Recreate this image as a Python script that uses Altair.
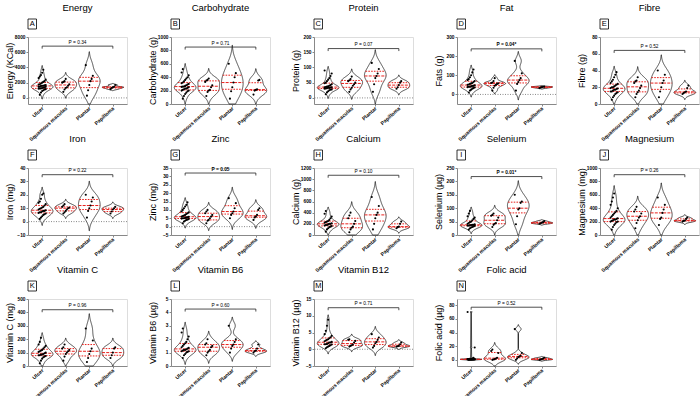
import altair as alt
import pandas as pd

group_names = ["Ulcer", "Squamous maculas", "Plantar", "Papilloma"]

# Intake values per group: Ulcer, Squamous maculas, Plantar, Papilloma
energy = [
    [400, 700, 900, 1000, 1100, 1150, 1200, 1250, 1300, 1350, 1400, 1450, 1500, 1550, 1600,
     1650, 1700, 1750, 1800, 1900, 2000, 2100, 2200, 2400, 2600, 2800, 3000, 3300, 3700, 1250, 1450, 1600],
    [800, 1100, 1300, 1400, 1600, 1800, 2000, 2100, 2200, 2500],
    [300, 1000, 1700, 2200, 2500, 2900, 4300],
    [1150, 1300, 1400, 1450, 1700],
]
carbohydrate = [
    [80, 120, 150, 170, 190, 200, 210, 220, 230, 240, 250, 255, 260, 270, 280, 290, 300, 310,
     320, 340, 360, 380, 400, 430, 470, 520, 230, 260, 200],
    [120, 180, 200, 210, 250, 280, 330, 350, 360, 380],
    [80, 190, 250, 320, 400, 460, 600],
    [140, 200, 210, 220, 350, 360],
]
protein = [
    [12, 18, 22, 25, 27, 28, 30, 31, 32, 33, 34, 35, 36, 37, 38, 40, 42, 45, 48, 50, 55, 60,
     65, 72, 80, 90, 33, 35],
    [20, 28, 33, 40, 45, 50, 55, 58, 62, 70],
    [20, 45, 65, 72, 80, 95, 115],
    [30, 35, 42, 50, 55],
]
fat = [
    [10, 20, 25, 30, 33, 36, 38, 40, 42, 45, 48, 50, 52, 55, 58, 60, 65, 70, 75, 80, 90, 100,
     115, 130, 40, 45],
    [20, 35, 45, 50, 55, 58, 60, 62, 70, 85],
    [20, 55, 65, 75, 85, 110, 175],
    [33, 36, 38, 40, 41],
]
fibre = [
    [5, 8, 10, 12, 13, 14, 15, 16, 17, 18, 18.5, 19, 20, 21, 22, 23, 24, 25, 27, 29, 32, 35,
     38, 15, 17, 20],
    [8, 12, 14, 16, 19, 22, 25, 27, 28, 32],
    [8, 15, 20, 25, 28, 35, 40],
    [12, 13, 14, 15, 19, 22],
]
iron = [
    [2, 3, 4, 5, 5.5, 6, 6.5, 7, 7.5, 8, 8.5, 9, 9.5, 10, 10.5, 11, 12, 13, 14, 15, 17, 20,
     21, 7, 8],
    [6, 7, 8, 9, 10, 10.5, 11, 12, 13],
    [3, 8, 10, 12, 15, 18, 20],
    [6, 7.5, 9, 10, 11],
]
zinc = [
    [2, 3, 3.5, 4, 4.2, 4.5, 4.8, 5, 5.2, 5.5, 5.8, 6, 6.3, 6.6, 7, 7.5, 8, 8.5, 9, 10, 11,
     12, 13, 14.5, 5, 5.5],
    [2, 3.5, 4, 5, 6, 7, 8, 9, 10],
    [5, 7, 8, 9, 11, 14, 17],
    [4, 5.5, 6, 7, 10, 11],
]
calcium = [
    [60, 100, 120, 140, 150, 160, 170, 180, 190, 200, 210, 220, 230, 240, 250, 270, 300, 330,
     380, 430, 180, 200],
    [50, 100, 130, 150, 200, 250, 300, 350, 400],
    [100, 200, 300, 360, 400, 520, 680],
    [120, 140, 150, 200, 240],
]
selenium = [
    [20, 25, 28, 30, 32, 34, 35, 36, 37, 38, 40, 42, 45, 48, 50, 55, 60, 65, 70, 80, 90, 35, 38],
    [30, 38, 42, 45, 55, 65, 72, 75, 80],
    [40, 70, 95, 100, 120, 125, 150],
    [42, 44, 46, 48, 52],
]
magnesium = [
    [80, 120, 150, 170, 190, 200, 210, 220, 230, 240, 250, 260, 280, 300, 320, 340, 360, 400,
     450, 500, 560, 620, 200, 230],
    [100, 180, 220, 260, 280, 320, 350, 380, 420],
    [150, 240, 260, 330, 380, 450, 560],
    [200, 210, 215, 240, 260],
]
vitamin_c = [
    [20, 40, 55, 65, 70, 75, 80, 85, 90, 95, 100, 105, 110, 115, 120, 130, 140, 150, 160, 180,
     210, 80, 85],
    [40, 70, 90, 100, 110, 120, 130, 140, 160],
    [30, 60, 90, 110, 130, 190, 280],
    [60, 80, 100, 130, 140],
]
vitamin_b6 = [
    [0.6, 0.8, 0.9, 1.0, 1.05, 1.1, 1.15, 1.2, 1.25, 1.3, 1.35, 1.4, 1.5, 1.6, 1.7, 1.8, 2.0,
     2.2, 2.5, 2.8, 1.1, 1.2],
    [0.8, 1.0, 1.1, 1.2, 1.4, 1.5, 1.6, 1.7, 2.0],
    [1.0, 1.3, 1.5, 1.6, 1.8, 2.0, 3.0],
    [1.0, 1.1, 1.15, 1.3, 1.6],
]
vitamin_b12 = [
    [0.3, 0.6, 0.8, 1.0, 1.2, 1.4, 1.5, 1.6, 1.8, 2.0, 2.2, 2.4, 2.6, 2.8, 3.0, 3.3, 3.6, 4.0,
     4.5, 5.5, 7.0, 8.8, 1.5, 2.0],
    [0.8, 1.0, 1.2, 1.4, 2.0, 2.5, 2.8, 3.0],
    [0.5, 1.0, 1.8, 2.2, 2.8, 3.5, 4.5],
    [0.8, 0.9, 1.0, 1.5, 2.0],
]
folic_acid = [
    [0, 0, 0.2, 0.3, 0.5, 0.5, 0.8, 1.0, 1.0, 1.2, 1.5, 0.4, 0.6, 0.7, 0.9, 1.1, 1.3, 2, 3, 18, 70],
    [0, 0.5, 1, 2, 3, 10, 13, 15],
    [0, 2, 4, 5, 6, 10, 45],
    [0, 0.5, 1, 2, 3],
]

# letter, title, y title, data, y domain, y ticks, bracket level, p text, bold, zero line
panels = [
    ("A", "Energy", "Energy (KCal)", energy, [-800, 8000], [0, 2000, 4000, 6000, 8000], 6800, "P = 0.34", False, True),
    ("B", "Carbohydrate", "Carbohydrate (g)", carbohydrate, [0, 1000], [0, 200, 400, 600, 800, 1000], 850, "P = 0.71", False, False),
    ("C", "Protein", "Protein (g)", protein, [-20, 200], [0, 50, 100, 150, 200], 162, "P = 0.07", False, True),
    ("D", "Fat", "Fats (g)", fat, [-50, 300], [0, 100, 200, 300], 238, "P = 0.04*", True, True),
    ("E", "Fibre", "Fibre (g)", fibre, [0, 80], [0, 20, 40, 60, 80], 64, "P = 0.52", False, False),
    ("F", "Iron", "Iron (mg)", iron, [-10, 40], [-10, 0, 10, 20, 30, 40], 35, "P = 0.22", False, True),
    ("G", "Zinc", "Zinc (mg)", zinc, [-5, 35], [-5, 0, 5, 10, 15, 20, 25, 30, 35], 32, "P = 0.05", True, True),
    ("H", "Calcium", "Calcium (g)", calcium, [0, 1200], [0, 200, 400, 600, 800, 1000, 1200], 1070, "P = 0.10", False, False),
    ("I", "Selenium", "Selenium (µg)", selenium, [0, 250], [0, 50, 100, 150, 200, 250], 218, "P = 0.01*", True, False),
    ("J", "Magnesium", "Magnesium (mg)", magnesium, [0, 1000], [0, 200, 400, 600, 800, 1000], 900, "P = 0.26", False, False),
    ("K", "Vitamin C", "Vitamin C (mg)", vitamin_c, [0, 500], [0, 100, 200, 300, 400, 500], 420, "P = 0.96", False, False),
    ("L", "Vitamin B6", "Vitamin B6 (µg)", vitamin_b6, [0, 5], [0, 1, 2, 3, 4, 5], 4.25, "P = 0.60", False, False),
    ("M", "Vitamin B12", "Vitamin B12 (µg)", vitamin_b12, [-5, 15], [-5, 0, 5, 10, 15], 12.4, "P = 0.71", False, True),
    ("N", "Folic acid", "Folic acid (µg)", folic_acid, [-9, 89], [0, 20, 40, 60, 80], 77, "P = 0.52", False, False),
]

FONT = "Liberation Sans"
W, H = 99, 67
X_DOMAIN = [-0.6, 3.6]
HALF = 0.46
label_expr = "[" + ",".join(f"'{g}'" for g in group_names) + "][datum.value]"


def xenc(field):
    return alt.X(
        field, type="quantitative",
        scale=alt.Scale(domain=X_DOMAIN, nice=False, zero=False),
        axis=alt.Axis(values=[0, 1, 2, 3], labelExpr=label_expr, labelAngle=-42,
                      labelAlign="right", labelBaseline="middle", labelFontSize=5.2,
                      labelFontWeight="bold", labelPadding=1, tickSize=2, grid=False,
                      labelOverlap=False, labelFlush=False, title=None),
    )


def yenc(field, domain, ticks, ytitle):
    return alt.Y(
        field, type="quantitative",
        scale=alt.Scale(domain=domain, nice=False, zero=False),
        axis=alt.Axis(values=ticks, format="d" if all(float(t).is_integer() for t in ticks) else "",
                      labelFontSize=4.8, labelFontWeight="bold", labelPadding=1, tickSize=2,
                      grid=False, labelOverlap=False, title=ytitle, titleFontSize=9,
                      titleFontWeight="normal", titleX=-14),
    )


def make_panel(letter, title, ytitle, values, domain, ticks, bracket, ptext, bold, zero):
    df = pd.DataFrame([{"g": i, "value": v} for i, vals in enumerate(values) for v in vals])
    lo, hi = domain
    base = alt.Chart(df)

    violin = (
        base.transform_density("value", groupby=["g"], extent=[lo, hi], steps=300,
                               as_=["value", "density"])
        .transform_joinaggregate(maxd="max(density)", groupby=["g"])
        .transform_calculate(w=f"{HALF} * datum.density / datum.maxd")
        .transform_filter("datum.w > 0.006")
        .transform_calculate(x1="datum.g - datum.w", x2="datum.g + datum.w")
        .mark_area(orient="horizontal", fill="white", stroke="black", strokeWidth=0.7)
        .encode(y=yenc("value", domain, ticks, ytitle), x=xenc("x1"), x2="x2:Q", detail="g:N")
    )

    # median and quartile lines span the violin width at their level
    quart = (
        base.transform_joinaggregate(q1="q1(value)", med="median(value)", q3="q3(value)",
                                     groupby=["g"])
        .transform_density("value", groupby=["g", "q1", "med", "q3"], extent=[lo, hi],
                           steps=300, as_=["v", "density"])
        .transform_joinaggregate(maxd="max(density)", groupby=["g"])
        .transform_calculate(w=f"{HALF} * datum.density / datum.maxd")
        .transform_fold(["q1", "med", "q3"], as_=["key", "qv"])
        .transform_calculate(dist="abs(datum.v - datum.qv)")
        .transform_aggregate(best="argmin(dist)", groupby=["g", "key", "qv"])
        .transform_calculate(x1="datum.g - datum.best.w", x2="datum.g + datum.best.w")
        .mark_rule(color="#e8201c", strokeWidth=1)
        .encode(
            y=yenc("qv", domain, ticks, ytitle), x=xenc("x1"), x2="x2:Q",
            strokeDash=alt.StrokeDash("key:N", scale=alt.Scale(domain=["med", "q1", "q3"],
                                      range=[[3, 1.2], [1.6, 1.2], [1.6, 1.2]]), legend=None),
        )
    )

    points = (
        base.transform_window(rn="row_number()", groupby=["g"], sort=[alt.SortField("value")])
        .transform_calculate(px="datum.g + ((datum.rn % 7) - 3) * 0.05")
        .mark_circle(size=4.5, color="black", opacity=1)
        .encode(y=yenc("value", domain, ticks, ytitle), x=xenc("px"))
    )

    layers = [violin, quart, points]

    if zero:
        zdf = pd.DataFrame({"z": [0]})
        layers.insert(0, alt.Chart(zdf).mark_rule(color="#555555", strokeDash=[1, 1.5], strokeWidth=0.7)
                      .encode(y=yenc("z", domain, ticks, ytitle)))

    tick_len = (hi - lo) / H * 2.5
    bdf = pd.DataFrame({"x": [0], "x2": [3], "y": [bracket], "t": [ptext], "xm": [1.5]})
    edf = pd.DataFrame({"x": [0, 3], "y": [bracket, bracket], "y2": [bracket - tick_len] * 2})
    layers.append(alt.Chart(bdf).mark_rule(color="#222222", strokeWidth=0.8)
                  .encode(x=xenc("x"), x2="x2:Q", y=yenc("y", domain, ticks, ytitle)))
    layers.append(alt.Chart(edf).mark_rule(color="#222222", strokeWidth=0.8)
                  .encode(x=xenc("x"), y=yenc("y", domain, ticks, ytitle), y2="y2:Q"))
    layers.append(alt.Chart(bdf).mark_text(font=FONT, fontSize=4.8, baseline="bottom", dy=-1.5,
                                           fontWeight="bold" if bold else "normal", color="black")
                  .encode(x=xenc("xm"), y=yenc("y", domain, ticks, ytitle), text="t:N"))

    ldf = pd.DataFrame({"t": [letter]})
    layers.append(alt.Chart(ldf).mark_rect(fill="white", fillOpacity=0, stroke="black", strokeWidth=0.8)
                  .encode(x=alt.value(0), x2=alt.value(8.5), y=alt.value(-18), y2=alt.value(-8)))
    layers.append(alt.Chart(ldf).mark_text(font=FONT, fontSize=7.5, color="black")
                  .encode(x=alt.value(4.25), y=alt.value(-12.8), text="t:N"))

    return alt.layer(*layers).properties(
        width=W, height=H,
        title=alt.TitleParams(title, font=FONT, fontSize=9.5, fontWeight="normal",
                              anchor="middle", offset=6, color="black"),
    )


charts = [make_panel(*p) for p in panels]
chart = (
    alt.concat(*charts, columns=5, spacing={"row": 64, "column": 44}, bounds="flush")
    .properties(padding={"left": 4, "top": 2, "right": 0, "bottom": 4})
    .configure_view(stroke=None)
    .configure_axis(labelFont=FONT, titleFont=FONT, domainColor="black", tickColor="black",
                    labelColor="black", titleColor="black", domainWidth=0.8, tickWidth=0.8)
    .configure(background="white")
)

chart.save("out.html", embed_options={"renderer": "svg", "actions": False})
